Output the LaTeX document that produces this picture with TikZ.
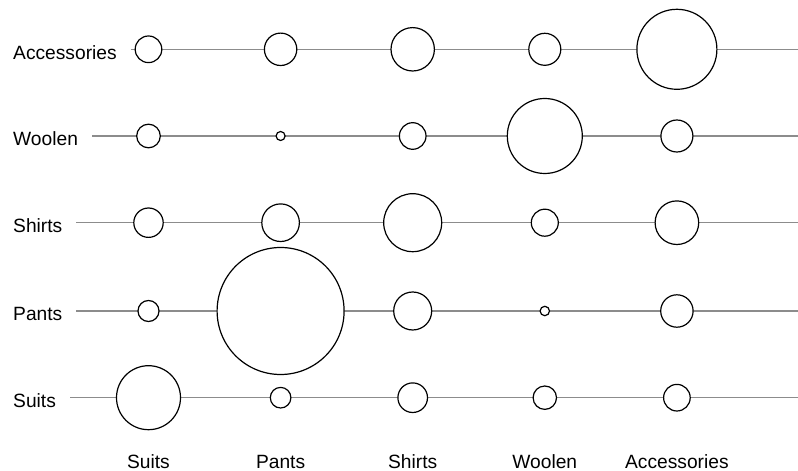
\documentclass[tikz,border=0pt]{standalone}
\usepackage{fontspec}
\setmainfont{Liberation Sans}
\usetikzlibrary{calc}
\definecolor{linegray}{HTML}{8C8C8C}
\begin{document}
\begin{tikzpicture}[x=1pt,y=1pt,
  rowline/.style={draw=linegray,line width=1.1pt},
  bubble/.style={circle,draw=black,fill=white,line width=1.2pt,inner sep=0pt,minimum size=#1},
  lab/.style={inner sep=0pt,font=\fontsize{19.2}{23}\selectfont},
]
\useasboundingbox (0,0) rectangle (798,471);
% row coordinates
\foreach \n/\y in {1/49.3,2/136,3/222.7,4/311,5/397.7}{
  \coordinate (row\n) at (0,471-\y);
  \coordinate (end\n) at (798,471-\y);
}
% row labels
\node[lab,anchor=base west] (lab1) at (13,471-59.3) {Accessories};
\node[lab,anchor=base west] (lab2) at (13,471-146) {Woolen};
\node[lab,anchor=base west] (lab3) at (13,471-232.7) {Shirts};
\node[lab,anchor=base west] (lab4) at (13,471-321) {Pants};
\node[lab,anchor=base west] (lab5) at (13,471-407.7) {Suits};
% lines
\foreach \n in {1,...,5}{
  \draw[rowline] ($(lab\n.east |- row\n)+(14,0)$) -- (end\n);
}
% bubbles: row/col/radius
\foreach \r/\c/\rad in {
  1/1/13.3, 1/2/16.2, 1/3/21.7, 1/4/16, 1/5/40,
  2/1/11.8, 2/2/4.5, 2/3/13.3, 2/4/37.5, 2/5/16,
  3/1/14.7, 3/2/18.8, 3/3/29, 3/4/13.5, 3/5/21.8,
  4/1/10.5, 4/2/63.5, 4/3/19, 4/4/4.7, 4/5/16.2,
  5/1/32, 5/2/10.3, 5/3/14.8, 5/4/11.7, 5/5/13.3}{
  \pgfmathsetmacro{\cx}{148.5+132.1*(\c-1)}
  \node[bubble=2*\rad] (c\r\c) at (\cx, 0 |- row\r) {};
}
% column labels
\node[lab,anchor=base] (col1) at (148.5,2.5) {Suits};
\node[lab,anchor=base] (col2) at (280.6,2.5) {Pants};
\node[lab,anchor=base] (col3) at (412.7,2.5) {Shirts};
\node[lab,anchor=base] (col4) at (544.8,2.5) {Woolen};
\node[lab,anchor=base] (col5) at (676.9,2.5) {Accessories};
\end{tikzpicture}
\end{document}
